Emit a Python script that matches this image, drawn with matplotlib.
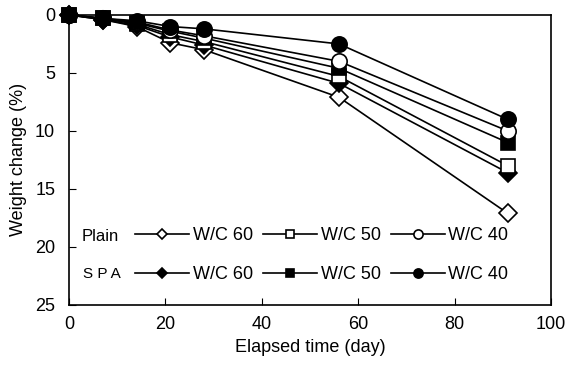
import matplotlib.pyplot as plt

plt.rcParams['font.family'] = ['Liberation Sans', 'DejaVu Sans']

# Weight change (%) vs elapsed time (day)
days = [0, 7, 14, 21, 28, 56, 91]
plain60 = [0, 0.4, 1.0, 2.4, 3.0, 7.1, 17.1]
plain50 = [0, 0.3, 0.8, 1.7, 2.3, 5.3, 13.0]
plain40 = [0, 0.3, 0.6, 1.3, 1.8, 4.0, 10.0]
spa60 = [0, 0.4, 0.9, 1.9, 2.6, 5.9, 13.6]
spa50 = [0, 0.3, 0.7, 1.4, 2.0, 4.6, 11.0]
spa40 = [0, 0.3, 0.5, 1.0, 1.2, 2.5, 9.0]

fig = plt.figure(figsize=(5.71, 3.83), dpi=100)
ax = fig.add_axes([0.121, 0.204, 0.844, 0.757])

series = [
    (plain60, 'D', 'white', 9),
    (spa60, 'D', 'black', 9),
    (plain50, 's', 'white', 10),
    (spa50, 's', 'black', 10),
    (plain40, 'o', 'white', 11),
    (spa40, 'o', 'black', 11),
]
handles = []
for vals, m, fc, ms in series:
    h, = ax.plot(days, vals, color='black', lw=1.2, marker=m, ms=ms,
                 mfc=fc, mec='black', mew=1.2, clip_on=False, zorder=3)
    handles.append(h)

labels = ['W/C 60', 'W/C 60', 'W/C 50', 'W/C 50', 'W/C 40', 'W/C 40']
leg = ax.legend(handles, labels, ncol=3, frameon=False, fontsize=13,
                markerscale=0.6, handlelength=3.0, handletextpad=0.2,
                columnspacing=0.55, labelspacing=1.25,
                loc='upper left', bbox_to_anchor=(0.103, 0.325))
ax.text(0.027, 0.235, 'Plain', transform=ax.transAxes, fontsize=12,
        va='center', ha='left')
ax.text(0.029, 0.105, 'S P A', transform=ax.transAxes, fontsize=11,
        va='center', ha='left')

ax.set_xlim(0, 100)
ax.set_ylim(25, 0)
ax.set_xticks([0, 20, 40, 60, 80, 100])
ax.set_yticks([0, 5, 10, 15, 20, 25])
ax.tick_params(direction='in', length=5, labelsize=13, pad=8)
ax.tick_params(axis='y', pad=10)
for s in ax.spines.values():
    s.set_linewidth(1.2)

ax.set_xlabel('Elapsed time (day)', fontsize=13, labelpad=4)
ax.set_ylabel('Weight change (%)', fontsize=13, labelpad=6)

fig.savefig('out.png', dpi=100)
